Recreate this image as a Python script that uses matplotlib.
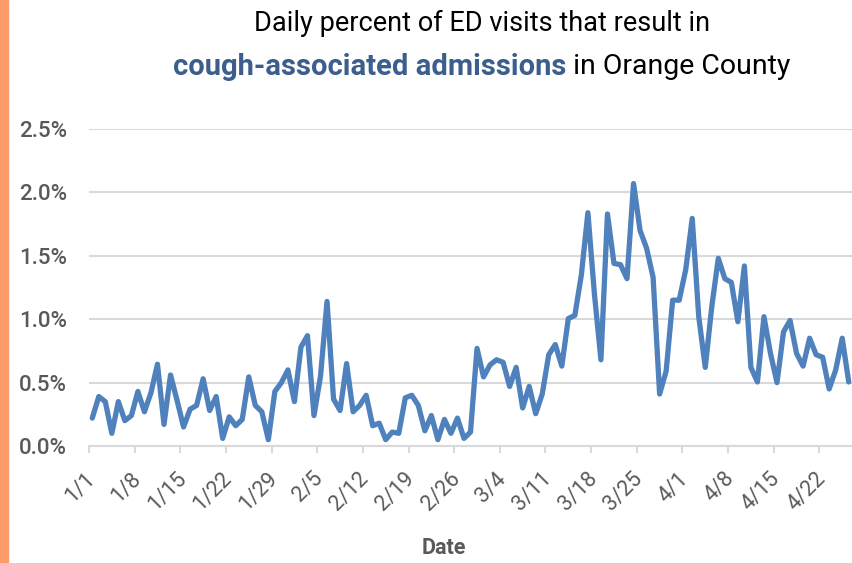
import numpy as np
import pandas as pd
import matplotlib
matplotlib.use("Agg")
import matplotlib.pyplot as plt
import matplotlib.transforms as mtransforms
from matplotlib.patches import Rectangle

plt.rcParams['font.family'] = ['Roboto', 'DejaVu Sans']

# daily percent of ED visits -> cough-associated admissions, 1/1 .. 4/26
dates = pd.date_range('2024-01-01', periods=117, freq='D')
pct = [0.22, 0.39, 0.35, 0.10, 0.35, 0.20, 0.24, 0.43, 0.27, 0.42,
       0.645, 0.17, 0.56, 0.36, 0.15, 0.29, 0.32, 0.53, 0.28, 0.39,
       0.06, 0.23, 0.16, 0.21, 0.545, 0.32, 0.27, 0.05, 0.43, 0.50,
       0.60, 0.35, 0.78, 0.87, 0.24, 0.55, 1.14, 0.37, 0.28, 0.65,
       0.27, 0.32, 0.40, 0.16, 0.18, 0.05, 0.11, 0.10, 0.38, 0.40,
       0.32, 0.12, 0.24, 0.05, 0.21, 0.10, 0.22, 0.06,
       0.11, 0.77, 0.545, 0.64, 0.68, 0.66, 0.47, 0.62, 0.30, 0.47,
       0.255, 0.41, 0.72, 0.80, 0.63, 1.005, 1.03, 1.35, 1.84, 1.20,
       0.68, 1.83, 1.44, 1.43, 1.32, 2.07, 1.70, 1.56, 1.33, 0.41,
       0.59, 1.15, 1.15, 1.39, 1.795, 1.02, 0.62, 1.10, 1.48, 1.32,
       1.29, 0.98, 1.42, 0.62, 0.505, 1.02, 0.73, 0.50, 0.90, 0.99,
       0.73, 0.63, 0.85, 0.72, 0.70, 0.45, 0.60, 0.85, 0.505]
yticks = [0.0, 0.5, 1.0, 1.5, 2.0, 2.5]

line_color = '#4F81BD'
title_blue = '#3B5E8C'
grey_txt = '#595959'
grid_col = '#D9D9D9'

fig = plt.figure(figsize=(8.53, 5.63), dpi=100)
ax = fig.add_axes([89 / 853, 1 - 446 / 563, 763 / 853, 317 / 563])

# orange strip down the left edge
fig.patches.append(Rectangle((0, 0), 8 / 853, 1, transform=fig.transFigure,
                             color='#FF9B68', zorder=0))

x = np.arange(len(dates))
ax.plot(x, pct, color=line_color, lw=3.8, solid_joinstyle='round',
        solid_capstyle='round', zorder=3, clip_on=False)

ax.set_xlim(-0.5, len(dates) - 0.5)
ax.set_ylim(0, 2.5)
ax.set_yticks(yticks)
ax.set_yticklabels([f'{v:.1f}%' for v in yticks])
ax.yaxis.grid(True, color=grid_col, lw=1.5)
ax.set_axisbelow(True)

# labels every 7 days, tick marks at the category boundaries
lab_idx = x[::7]
ax.set_xticks(lab_idx)
ax.set_xticklabels([f'{d.month}/{d.day}' for d in dates[lab_idx]],
                   rotation=45, ha='right', va='top')
ax.set_xticks(lab_idx - 0.5, minor=True)
ax.tick_params(axis='x', which='major', length=0, pad=16,
               labelsize=15.5, labelcolor=grey_txt)
ax.tick_params(axis='x', which='minor', length=5, width=1.5, color=grid_col)
ax.tick_params(axis='y', length=0, pad=16, labelsize=16, labelcolor=grey_txt)
for lab in ax.get_yticklabels():
    lab.set_fontweight('medium')
offset = mtransforms.ScaledTranslation(5 / 72, 0, fig.dpi_scale_trans)
for lab in ax.get_xticklabels():
    lab.set_transform(lab.get_transform() + offset)

for side in ['top', 'right', 'left']:
    ax.spines[side].set_visible(False)
ax.spines['bottom'].set_color(grid_col)
ax.spines['bottom'].set_linewidth(1.5)

fig.text(444 / 853, 1 - 548 / 563, 'Date', ha='center', va='center',
         fontsize=15.5, fontweight='bold', color=grey_txt)

# two-line title, second line mixes a bold blue part with plain text
fig.text(482 / 853, 1 - 23 / 563, 'Daily percent of ED visits that result in',
         ha='center', va='center', fontsize=19.5, color='black')
renderer = fig.canvas.get_renderer()
t1 = fig.text(0, 1 - 67 / 563, 'cough-associated admissions', ha='left',
              va='center', fontsize=21, fontweight='bold', color=title_blue)
t2 = fig.text(0, 1 - 67 / 563, ' in Orange County', ha='left', va='center',
              fontsize=20.5, color='black')
w1 = t1.get_window_extent(renderer).width
w2 = t2.get_window_extent(renderer).width
start = 482 - (w1 + w2) / 2
t1.set_x(start / 853)
t2.set_x((start + w1) / 853)

fig.savefig('out.png', dpi=100)
